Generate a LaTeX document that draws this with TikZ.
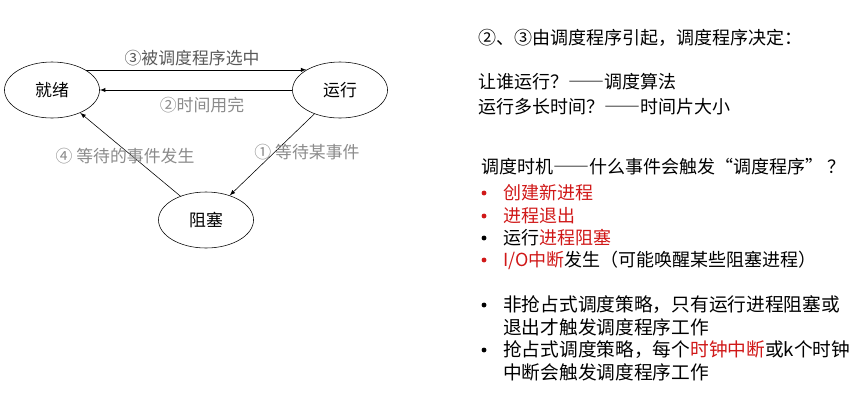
\documentclass[tikz,border=0pt]{standalone}
\usepackage{fontspec}
\setmainfont[Script=CJK, Language=Chinese Simplified]{Noto Sans CJK SC}
\usetikzlibrary{shapes.geometric}
\definecolor{tipred}{HTML}{D01818}
\definecolor{labgray}{HTML}{6E6E6E}
\begin{document}
\begin{tikzpicture}[x = 0.025cm, y = -0.025cm,
        state/.style = {ellipse, draw, minimum width = 2.375cm, minimum height = 1.4cm, inner sep = 0pt, font = \fontsize{12}{14}\selectfont},
        lab/.style = {text = #1, inner sep = 0pt, font = \fontsize{12}{14}\selectfont},
        txt/.style = {anchor = west, inner sep = 0pt, text = #1, font = \fontsize{12.8}{15}\selectfont},
        txt/.default = black,
        big/.style = {font = \fontsize{13.3}{16}\selectfont},
        dot/.style = {circle, fill = #1, minimum size = 3.5pt, inner sep = 0pt},
        link/.style = {-latex, thin}]
    \useasboundingbox (0, 0) rectangle (859, 408);
    % state diagram
    \node[state] (ready) at (52, 90) {就绪};
    \node[state] (run) at (340, 90) {运行};
    \node[state] (block) at (206, 220) {阻塞};
    \draw[link] (ready.31) -- (run.149);
    \draw[link] (run.west) -- (ready.east);
    \draw[link] (run.223) -- (block.46);
    \draw[link] (block.137) -- (ready.321);
    \node[lab = labgray!80!black] (picked) at (192, 58) {③被调度程序选中};
    \node[lab = labgray!80] (timeout) at (202, 105) {②时间用完};
    \node[lab = labgray!80] (wakeup) at (125, 156) {④ 等待的事件发生};
    \node[lab = labgray!80] (wait) at (307, 152) {① 等待某事件};
    % notes
    \node[txt] (cause) at (478, 38) {②、③由调度程序引起，调度程序决定：};
    \node[txt] (who) at (478, 82) {让谁运行？——调度算法};
    \node[txt] (howlong) at (478, 107) {运行多长时间？——时间片大小};
    \node[txt] (when) at (481, 167) {调度时机——什么事件会触发“调度程序” ？};
    \node[dot = tipred] (b1) at (484, 193) {};
    \node[dot = tipred] (b2) at (484, 216) {};
    \node[dot = black] (b3) at (484, 238) {};
    \node[dot = tipred] (b4) at (484, 260) {};
    \node[txt = tipred] (t1) at (503, 193) {创建新进程};
    \node[txt = tipred] (t2) at (503, 216) {进程退出};
    \node[txt] (t3) at (503, 238) {运行\textcolor{tipred}{进程阻塞}};
    \node[txt] (t4) at (503, 260) {\textcolor{tipred}{I/O中断}发生（可能唤醒某些阻塞进程）};
    \node[dot = black] (b5) at (484, 305) {};
    \node[dot = black] (b6) at (484, 350) {};
    \node[txt, big] (t5) at (503, 305) {非抢占式调度策略，只有运行进程阻塞或};
    \node[txt, big] (t5b) at (503, 327) {退出才触发调度程序工作};
    \node[txt, big] (t6) at (503, 350) {抢占式调度策略，每个\textcolor{tipred}{时钟中断}或k个时钟};
    \node[txt, big] (t6b) at (503, 372) {中断会触发调度程序工作};
\end{tikzpicture}
\end{document}
